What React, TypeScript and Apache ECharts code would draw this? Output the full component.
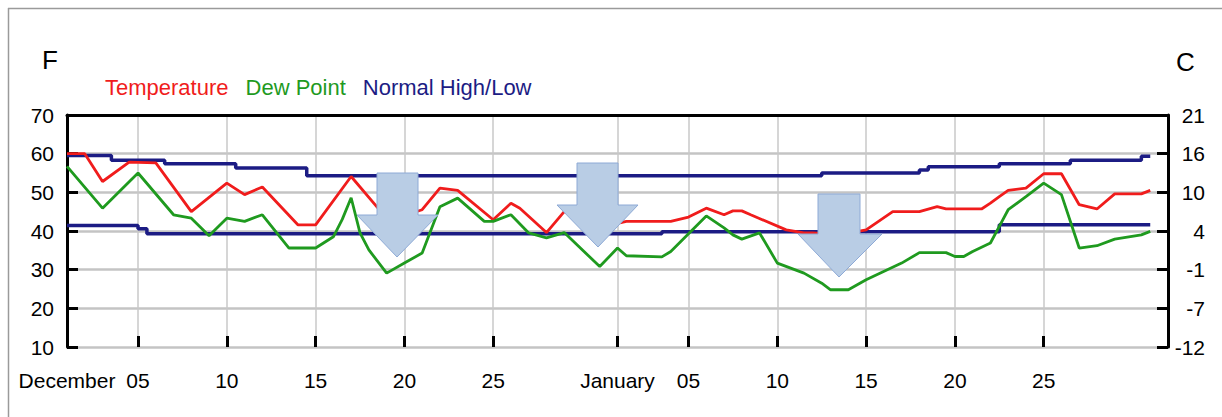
import React, { useEffect, useRef } from "react";
import * as echarts from "echarts";

// Day index: 0 = December 1, 31 = January 1 (half-day resolution)
const temperature: [number, number][] = [
  [0, 60], [1, 60], [2, 52.8], [3.5, 57.8], [5, 57.6], [7, 45], [9, 52.4], [10, 49.4],
  [11, 51.4], [13, 41.6], [14, 41.6], [16, 54.1], [17.5, 46], [19, 44], [20, 45.5],
  [21, 51.1], [22, 50.5], [24, 42.9], [25, 47.2], [25.5, 45.9], [27, 39.6], [28, 45],
  [29.5, 43], [31, 42], [31.5, 42.5], [34, 42.5], [35, 43.6], [36, 45.9], [37, 44.2],
  [37.5, 45.2], [38, 45.2], [38.5, 44.2], [40.5, 40.3], [41.5, 39.5], [42, 39.5],
  [43.5, 39], [45, 40.3], [46.5, 45], [48, 45], [49, 46.3], [49.5, 45.7], [51.5, 45.7],
  [52, 47.2], [52.5, 48.9], [53, 50.5], [54, 51.1], [55, 54.8], [56, 54.8], [57, 46.8],
  [58, 45.7], [59, 49.6], [60.5, 49.6], [61, 50.5],
];

const dewPoint: [number, number][] = [
  [0, 56.7], [2, 45.9], [4, 55], [6, 44.2], [7, 43.3], [8, 38.8], [9, 43.3], [10, 42.5],
  [11, 44.2], [12.5, 35.6], [14, 35.6], [15, 38.5], [15.5, 43], [16, 48.6], [16.5, 39.5],
  [17, 35.1], [18, 29.1], [19, 31.7], [20, 34.3], [21, 46.3], [22, 48.5], [23.5, 42.5],
  [24, 42.5], [25, 44.2], [26, 39.5], [27, 38.2], [28, 39.6], [30, 30.8], [31, 35.6],
  [31.5, 33.6], [33.5, 33.3], [34, 34.7], [36, 43.9], [37, 40.8], [37.5, 39], [38, 37.9],
  [39, 39.5], [40, 31.7], [41.5, 29.1], [42.5, 26.5], [43, 24.8], [44, 24.8], [45, 27.4],
  [47, 31.7], [48, 34.4], [49.5, 34.4], [50, 33.4], [50.5, 33.4], [51, 34.7], [52, 36.9],
  [52.5, 41.2], [53, 45.5], [54, 48.9], [55, 52.4], [56, 49.4], [57, 35.6], [58, 36.2],
  [59, 37.9], [60.5, 39], [61, 39.9],
];

const normalHigh: [number, number][] = [
  [0, 59.5], [2.5, 58.3], [5.5, 57.4], [9.5, 56.3], [13.5, 54.3], [42.5, 55], [48, 55.8],
  [48.5, 56.6], [52.5, 57.4], [56.5, 58.3], [60.5, 59.3], [61, 59.3],
];

const normalLow: [number, number][] = [
  [0, 41.4], [4, 40.6], [4.5, 39.3], [33.5, 39.8], [52.5, 41.6], [61, 41.6],
];

const tickDays = [0, 4, 9, 14, 19, 24, 31, 35, 40, 45, 50, 55];
const tickLabels = ["December", "05", "10", "15", "20", "25", "January", "05", "10", "15", "20", "25"];
const totalDays = 62;

const FONT = "'Liberation Sans', Arial, sans-serif";

export default function App() {
  const ref = useRef<HTMLDivElement>(null);
  useEffect(() => {
    document.body.style.margin = "0";
    if (!ref.current) return;
    const chart = echarts.init(ref.current, undefined, { renderer: "svg" });
    const cats = Array.from({ length: totalDays * 2 + 1 }, (_, i) => String(i));
    const tickIdx = tickDays.map((d) => d * 2);
    const labelOf = (i: number) => {
      const k = tickIdx.indexOf(i);
      return k >= 0 ? tickLabels[k] : "";
    };
    const toData = (arr: [number, number][]) => arr.map(([d, v]) => [d * 2, v]);
    const navy = "#1c1c84";
    const red = "#f01c1c";
    const green = "#1f9a1f";

    chart.setOption({
      animation: false,
      backgroundColor: "#ffffff",
      grid: { left: 67, right: 54, top: 115, bottom: 70, containLabel: false },
      legend: {
        left: 95,
        top: 71,
        icon: "none",
        itemWidth: 0,
        itemGap: 12,
        selectedMode: false,
        textStyle: { fontSize: 22, fontFamily: FONT },
        data: [
          { name: "Temperature", textStyle: { color: red } },
          { name: "Dew Point", textStyle: { color: green } },
          { name: "Normal High/Low", textStyle: { color: navy } },
        ],
      },
      xAxis: [
        {
          type: "category",
          data: cats,
          boundaryGap: false,
          position: "bottom",
          axisLine: {
            lineStyle: { color: "#000", width: 4, shadowColor: "rgba(0,0,0,0.45)", shadowOffsetY: 2, shadowBlur: 2 },
          },
          axisTick: {
            inside: true,
            length: 11,
            interval: (i: number) => tickIdx.includes(i),
            lineStyle: { color: "#000", width: 3 },
          },
          axisLabel: {
            interval: (i: number) => tickIdx.includes(i),
            formatter: (_v: string, i: number) => labelOf(i),
            margin: 23,
            fontSize: 21,
            color: "#000",
            fontFamily: FONT,
          },
          splitLine: {
            show: true,
            interval: (i: number) => i > 0 && tickIdx.includes(i),
            lineStyle: { color: "#c8c8c8", width: 1.5 },
          },
        },
        {
          type: "category",
          data: cats,
          boundaryGap: false,
          position: "top",
          axisLine: { lineStyle: { color: "#000", width: 3 } },
          axisTick: { show: false },
          axisLabel: { show: false },
          splitLine: { show: false },
        },
      ],
      yAxis: [
        {
          type: "value",
          min: 10,
          max: 70,
          interval: 10,
          position: "left",
          axisLine: { show: true, lineStyle: { color: "#000", width: 3 } },
          axisTick: { show: true, inside: true, length: 11, lineStyle: { color: "#000", width: 3 } },
          axisLabel: { margin: 13, fontSize: 21, color: "#000", fontFamily: FONT },
          splitLine: { show: true, lineStyle: { color: "#c4c4c4", width: 2.5 } },
        },
        {
          type: "value",
          min: 10,
          max: 70,
          interval: 10,
          position: "right",
          axisLine: { show: true, lineStyle: { color: "#000", width: 3 } },
          axisTick: { show: true, inside: true, length: 11, lineStyle: { color: "#000", width: 3 } },
          axisLabel: {
            margin: 37,
            align: "right",
            fontSize: 21,
            color: "#000",
            fontFamily: FONT,
            formatter: (v: number) => String(Math.round(((v - 32) * 5) / 9)),
          },
          splitLine: { show: false },
        },
      ],
      series: [
        {
          name: "Normal High/Low",
          type: "line",
          step: "end",
          data: toData(normalHigh),
          showSymbol: false,
          lineStyle: { color: navy, width: 3.5 },
          itemStyle: { color: navy },
          z: 2,
        },
        {
          name: "Normal High/Low",
          type: "line",
          step: "end",
          data: toData(normalLow),
          showSymbol: false,
          lineStyle: { color: navy, width: 3.5 },
          itemStyle: { color: navy },
          z: 2,
        },
        {
          name: "Temperature",
          type: "line",
          data: toData(temperature),
          showSymbol: false,
          lineStyle: { color: red, width: 2.8 },
          itemStyle: { color: red },
          z: 3,
        },
        {
          name: "Dew Point",
          type: "line",
          data: toData(dewPoint),
          showSymbol: false,
          lineStyle: { color: green, width: 2.8 },
          itemStyle: { color: green },
          z: 3,
        },
      ],
      graphic: [
        { type: "line", shape: { x1: 8.5, y1: 8, x2: 8.5, y2: 417 }, style: { stroke: "#9a9a9a", lineWidth: 1.5 } },
        { type: "line", shape: { x1: 8, y1: 8.5, x2: 1222, y2: 8.5 }, style: { stroke: "#9a9a9a", lineWidth: 1.5 } },
        { type: "text", left: 42, top: 47, style: { text: "F", fontSize: 26, fontFamily: FONT, fill: "#000" } },
        { type: "text", left: 1176, top: 49, style: { text: "C", fontSize: 26, fontFamily: FONT, fill: "#000" } },
        {
          type: "polygon",
          z: 100,
          shape: { points: [[377, 173], [418, 173], [418, 215], [438, 215], [397, 257], [357, 215], [377, 215]] },
          style: { fill: "#b9cde5", stroke: "#8eaad6", lineWidth: 1 },
        },
        {
          type: "polygon",
          z: 100,
          shape: { points: [[577, 163], [618, 163], [618, 205], [638, 205], [598, 247], [557, 205], [577, 205]] },
          style: { fill: "#b9cde5", stroke: "#8eaad6", lineWidth: 1 },
        },
        {
          type: "polygon",
          z: 100,
          shape: { points: [[818, 194], [860, 194], [860, 234], [882, 234], [839, 277], [798, 234], [818, 234]] },
          style: { fill: "#b9cde5", stroke: "#8eaad6", lineWidth: 1 },
        },
      ],
    });
    return () => chart.dispose();
  }, []);
  return <div ref={ref} style={{ width: 1222, height: 417 }} />;
}
